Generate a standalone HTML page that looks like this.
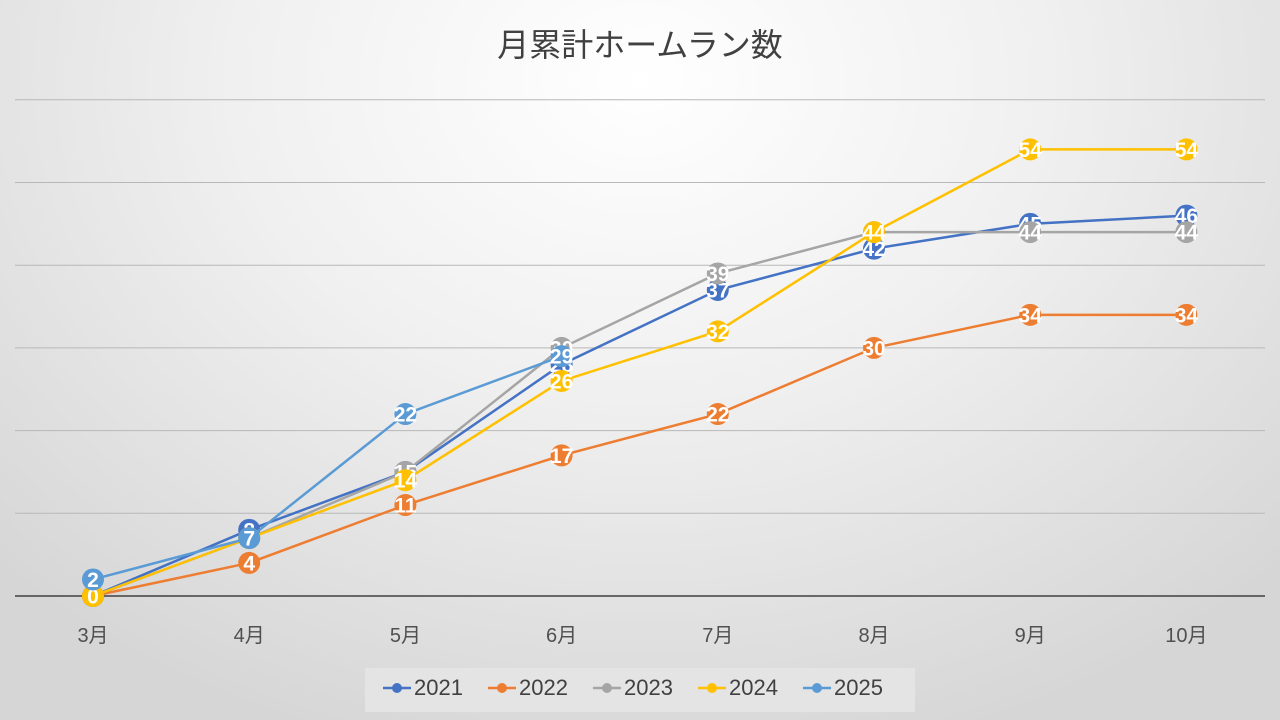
<!DOCTYPE html>
<html><head><meta charset="utf-8"><style>
html,body{margin:0;padding:0;width:1280px;height:720px;overflow:hidden}
body{background:radial-gradient(ellipse 900px 700px at 640px 80px,#ffffff 0%,#f0f0f0 45%,#d6d6d6 100%);font-family:"Liberation Sans","Noto Sans CJK JP",sans-serif}
</style></head><body>
<svg id="chart" width="1280" height="720" xmlns="http://www.w3.org/2000/svg" style="position:absolute;left:0;top:0">
<text x="640" y="56" text-anchor="middle" font-size="32" fill="#404040" font-family="Liberation Sans,Noto Sans CJK JP,sans-serif">月累計ホームラン数</text>
<g id="grid"></g><g id="xaxis"></g><g id="series"></g>
<rect x="365" y="668" width="550" height="44" fill="#e6e6e6" opacity="0.8"/>
<g id="legend"></g>
</svg>
<script>
const categories=["3月","4月","5月","6月","7月","8月","9月","10月"];
const seriesNames=["2021","2022","2023","2024","2025"];
const s2021=[0,8,15,28,37,42,45,46];
const s2022=[0,4,11,17,22,30,34,34];
const s2023=[0,7,15,30,39,44,44,44];
const s2024=[0,7,14,26,32,44,54,54];
const s2025=[2,7,22,29];
const yTicks=[0,10,20,30,40,50,60];
const colors=["#4472C4","#ED7D31","#A5A5A5","#FFC000","#5B9BD5"];
const allSeries=[s2021,s2022,s2023,s2024,s2025];
const NS="http://www.w3.org/2000/svg";
const x=i=>93+i*156.2;
const y=v=>596-v*8.27;
function mk(t,a,p){const e=document.createElementNS(NS,t);for(const k in a)e.setAttribute(k,a[k]);p.appendChild(e);return e;}
const grid=document.getElementById('grid');
yTicks.forEach(t=>{const l=mk('line',{x1:15,x2:1265,y1:y(t),y2:y(t),stroke:t===0?'#404040':'#b8b8b8','stroke-width':t===0?1.5:1},grid);

});
const xa=document.getElementById('xaxis');
categories.forEach((c,i)=>{const t=mk('text',{x:x(i),y:642,'text-anchor':'middle','font-size':20,fill:'#505050'},xa);t.textContent=c;

});
const sg=document.getElementById('series');
allSeries.forEach((d,si)=>{const g=mk('g',{},sg);


mk('polyline',{points:d.map((v,i)=>x(i)+','+y(v)).join(' '),fill:'none',stroke:colors[si],'stroke-width':2.5},g);
d.forEach((v,i)=>{const c=mk('circle',{cx:x(i),cy:y(v),r:11,fill:colors[si]},g);


const t=mk('text',{x:x(i),y:y(v)+7.5,'text-anchor':'middle','font-size':21,'font-weight':'bold',fill:'#fff'},g);t.textContent=v;

});});
const lg=document.getElementById('legend');
seriesNames.forEach((n,i)=>{const lx=383+i*105;const g=mk('g',{},lg);


mk('line',{x1:lx,x2:lx+28,y1:688,y2:688,stroke:colors[i],'stroke-width':2.5},g);
mk('circle',{cx:lx+14,cy:688,r:5,fill:colors[i]},g);
const t=mk('text',{x:lx+31,y:695,'font-size':22,fill:'#404040'},g);t.textContent=n;});
</script>
</body></html>
